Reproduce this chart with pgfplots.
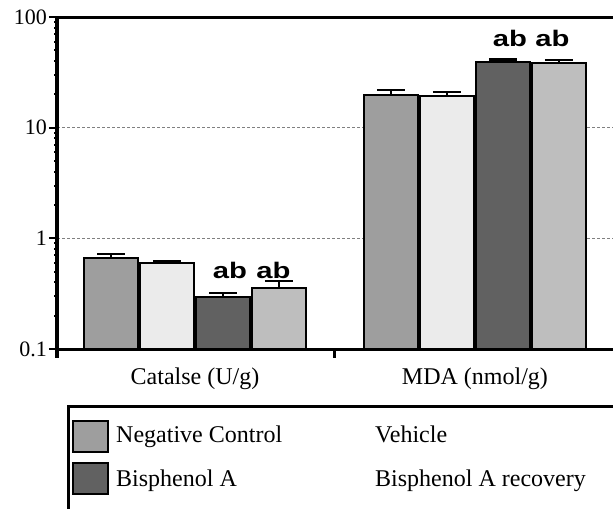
\documentclass[border=0pt]{standalone}
\usepackage{fontspec}
\setmainfont{Liberation Serif}
\newfontfamily\abfont{Liberation Sans}[FakeStretch=1.3]
\usepackage{pgfplots}
\pgfplotsset{compat=1.18}
\definecolor{nc}{RGB}{158,158,158}
\definecolor{veh}{RGB}{235,235,235}
\definecolor{bpa}{RGB}{97,97,97}
\definecolor{rec}{RGB}{190,190,190}
\begin{document}
\begin{tikzpicture}
\path[use as bounding box] (0,0) rectangle (613bp,-509bp);
\begin{axis}[
  at={(57bp,-349bp)}, anchor=south west,
  scale only axis, width=563bp, height=332bp,
  xmin=-0.4929, xmax=1.518,
  ymode=log, ymin=0.1, ymax=100, log origin y=infty,
  axis line style={line width=3bp},
  ytick={0.1,1,10,100}, yticklabels={0.1,1,10,100},
  /pgf/number format/assume math mode=true,
  tick align=outside, xtick pos=bottom, ytick pos=left,
  major tick length=8bp,
  ytick style={line width=2bp, black},
  yticklabel style={font=\fontsize{22bp}{26bp}\selectfont, inner sep=2bp},
  minor ytick={},
  ymajorgrids,
  y grid style={gray, line width=1bp, dash pattern=on 3bp off 2bp},
  xtick={0,1}, xticklabels={Catalse (U/g), MDA (nmol/g)},
  x tick style={draw=none},
  xticklabel style={font=\fontsize{24bp}{28bp}\selectfont, anchor=base, yshift=-28bp},
  extra x ticks={-0.4929,0.5}, extra x tick labels={},
  extra x tick style={x tick style={draw=black, line width=3bp}, major tick length=9bp},
  every axis plot/.append style={ybar, bar width=0.196, bar shift=0pt, draw=black, line width=2bp,
    error bars/y dir=plus, error bars/y explicit,
    error bars/error bar style={line width=2bp, black},
    error bars/error mark options={rotate=90, line width=2.5bp, mark size=14bp, black}},
]
\addplot[fill=nc] coordinates {(-0.3,0.664) +- (0,0.057) (0.7,19.7) +- (0,2.1)};
\addplot[fill=veh] coordinates {(-0.1,0.598) +- (0,0.025) (0.9,19.4) +- (0,1.6)};
\addplot[fill=bpa] coordinates {(0.1,0.295) +- (0,0.026) (1.1,39.4) +- (0,2.1)};
\addplot[fill=rec] coordinates {(0.3,0.356) +- (0,0.055) (1.3,38.2) +- (0,2.6)};
\node[font=\abfont\bfseries\fontsize{22.5bp}{27bp}\selectfont, anchor=base, inner sep=0] at (axis cs:0.125,0.438) {ab};
\node[font=\abfont\bfseries\fontsize{22.5bp}{27bp}\selectfont, anchor=base, inner sep=0] at (axis cs:0.280,0.438) {ab};
\node[font=\abfont\bfseries\fontsize{22.5bp}{27bp}\selectfont, anchor=base, inner sep=0] at (axis cs:1.125,53.6) {ab};
\node[font=\abfont\bfseries\fontsize{22.5bp}{27bp}\selectfont, anchor=base, inner sep=0] at (axis cs:1.277,53.6) {ab};
\end{axis}
\draw[line width=3bp] (68bp,-520bp) -- (68bp,-406bp) -- (630bp,-406bp);
\filldraw[fill=nc, draw=black, line width=2bp] (73bp,-421bp) rectangle (108bp,-452bp);
\filldraw[fill=bpa, draw=black, line width=2bp] (73bp,-463bp) rectangle (108bp,-494bp);
\begin{scope}[every node/.style={anchor=base west, inner sep=0, font=\fontsize{24bp}{28bp}\selectfont}]
\node at (116bp,-442bp) {Negative Control};
\node at (375bp,-442bp) {Vehicle};
\node at (116bp,-486bp) {Bisphenol A};
\node at (375bp,-486bp) {Bisphenol A recovery};
\end{scope}
\end{tikzpicture}
\end{document}
